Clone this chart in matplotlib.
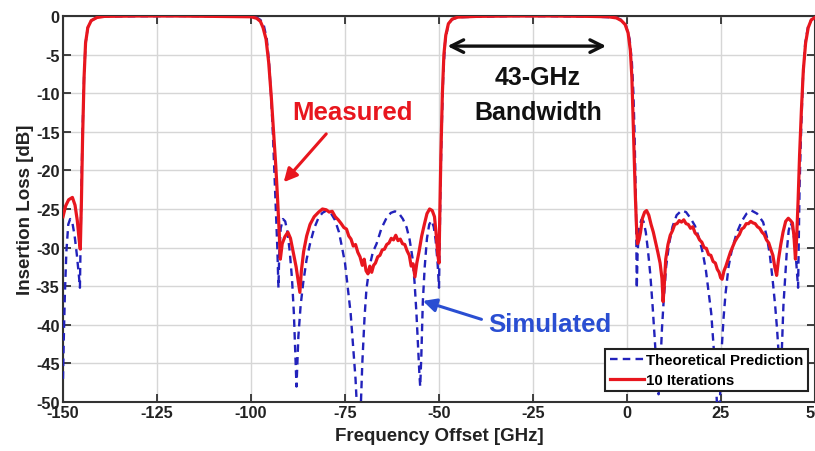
import matplotlib
matplotlib.use("Agg")
import matplotlib.pyplot as plt

# ---- Data ----
meas_f = [-150, -149.3, -148.5, -147.5, -146.8, -146.2, -145.7, -145.4, -145.1, -144.8, -144.4, -144.0,
          -143.4, -142.5, -141, -139, -130, -120, -110, -100, -98.5, -97.5, -96.8, -96.0, -95.3, -94.6,
          -94.0, -93.4, -92.9, -92.5, -92.2, -91.7, -91.0, -90.2, -89.5, -88.8, -88.0, -87.4, -87.0,
          -86.6, -86.0, -85.2, -84.3, -83.2, -82.0, -81.0, -80.0, -79.2, -78.4, -77.6, -76.8, -76.0,
          -75.3, -74.6, -74.0, -73.4, -72.8, -72.2, -71.6, -71.0, -70.4, -69.9, -69.4, -68.9, -68.4,
          -67.9, -67.4, -66.9, -66.3, -65.7, -65.1, -64.5, -63.9, -63.3, -62.7, -62.1, -61.5, -60.9,
          -60.3, -59.7, -59.1, -58.5, -57.9, -57.4, -56.9, -56.4, -55.9, -55.3, -54.6, -53.9, -53.2,
          -52.5, -51.8, -51.2, -50.7, -50.3, -50.0, -49.8, -49.5, -49.1, -48.7, -48.2, -47.5, -46.5,
          -45, -40, -30, -20, -10, -5, -2.8, -1.5, -0.5, 0.3, 0.9, 1.3, 1.6, 1.9, 2.2, 2.5, 2.8, 3.2,
          3.6, 4.1, 4.7, 5.2, 5.8, 6.4, 7.0, 7.6, 8.2, 8.8, 9.3, 9.6, 9.9, 10.3, 10.9, 11.5, 12.1,
          12.7, 13.3, 13.9, 14.5, 15.1, 15.7, 16.3, 16.9, 17.5, 18.1, 18.7, 19.3, 19.9, 20.5, 21.1,
          21.7, 22.3, 22.9, 23.5, 24.0, 24.5, 24.9, 25.3, 25.8, 26.3, 26.9, 27.5, 28.1, 28.7, 29.3,
          29.9, 30.5, 31.1, 31.7, 32.3, 32.9, 33.5, 34.1, 34.7, 35.3, 35.9, 36.5, 37.1, 37.7, 38.3,
          38.8, 39.3, 39.8, 40.3, 40.9, 41.5, 42.2, 42.9, 43.5, 44.0, 44.4, 44.8, 45.1, 45.5, 45.9,
          46.4, 46.9, 47.5, 48.2, 49.0, 50.0]
meas_db = [-26.0, -24.6, -23.8, -23.5, -24.5, -26.5, -29.0, -30.2, -24, -16, -8, -3.5,
           -1.5, -0.6, -0.2, -0.05, 0, 0, -0.05, -0.1, -0.3, -0.7, -1.5, -3, -6, -10.5,
           -15, -19.5, -24, -28, -31.5, -29.5, -28.6, -28.0, -28.8, -30.5, -32.5, -34.5, -35.8,
           -33, -30.5, -28.5, -27.0, -26.0, -25.4, -25.0, -25.1, -25.4, -25.3, -26.0, -26.4, -26.9,
           -27.4, -27.6, -28.5, -28.9, -29.8, -29.6, -30.6, -31.2, -32.3, -31.5, -33.0, -33.4, -32.4,
           -33.2, -32.3, -32.0, -31.2, -31.0, -30.3, -30.2, -29.6, -29.4, -28.8, -29.0, -28.4, -29.1,
           -28.9, -29.5, -29.6, -30.4, -31.0, -32.4, -32.1, -33.8, -32.0, -30.5, -28.5, -27.0, -25.6,
           -25.0, -25.2, -26.0, -28.5, -31.0, -32.0, -26, -18, -10, -5, -2.5, -1.0, -0.4,
           -0.15, -0.05, 0, 0, -0.05, -0.1, -0.25, -0.6, -1.1, -2.2, -4.5, -8, -13, -18, -23, -27, -29.5, -29.0,
           -28.0, -26.2, -25.4, -25.2, -25.8, -27, -28.0, -29.3, -30.6, -32.0, -34, -37.0, -35, -31.5, -29.6, -28.4, -27.8,
           -27.0, -26.9, -26.5, -26.7, -26.4, -26.9, -27.0, -27.5, -27.3, -28.1, -28.4, -29.0, -29.3, -30.0, -30.1,
           -30.9, -31.0, -31.8, -32.0, -32.8, -33.2, -33.9, -34.1, -33.0, -32.4, -31.5, -30.6, -29.9, -29.2, -28.7,
           -28.3, -27.6, -27.4, -26.9, -26.9, -26.6, -26.8, -26.9, -27.3, -27.5, -28.0, -28.3, -29.0, -29.4, -30.3,
           -31.0, -32.5, -33.6, -31.5, -29.6, -28.0, -26.6, -26.2, -26.5, -26.8, -28.5, -31.5, -29, -24, -18,
           -12, -7, -3.5, -1.5, -0.5, -0.2]

theo_f = [-150, -149.8, -149.5, -149.1, -148.6, -148.1, -147.5, -146.9, -146.3, -145.7, -145.5, -145.35,
          -145.1, -144.8, -144.4, -144.0, -143.4, -142.5, -141, -139, -120, -100, -98.5, -97.5, -96.6,
          -95.8, -95.2, -94.7, -94.2, -93.8, -93.4, -93.0, -92.7, -92.5, -92.1, -91.5, -90.9, -90.3,
          -89.7, -89.1, -88.6, -88.2, -87.9, -87.4, -86.8, -86.1, -85.2, -84.3, -83.2, -82.1, -81.0,
          -79.9, -78.8, -77.7, -76.6, -75.7, -75.0, -74.2, -73.5, -72.8, -72.2, -71.7, -71.3, -70.9,
          -70.4, -69.8, -69.3, -68.5, -67.6, -66.6, -65.3, -63.9, -62.8, -61.7, -60.6, -59.6, -58.6,
          -57.8, -57.0, -56.5, -56.0, -55.6, -55.2, -55.0, -54.7, -54.3, -53.8, -53.2, -52.6, -52.0,
          -51.4, -50.9, -50.4, -50.0, -49.85, -49.6, -49.3, -48.9, -48.4, -47.7, -46.7, -45, -30, -10,
          -3, -1.5, -0.3, 0.7, 1.3, 1.7, 2.0, 2.2, 2.4, 2.5, 2.6, 2.8, 3.2, 3.8, 4.4, 5.0, 5.6, 6.2,
          6.8, 7.4, 7.9, 8.4, 8.9, 9.3, 9.8, 10.4, 11.2, 12.1, 13.2, 14.5, 15.7, 16.9, 18.1, 19.3,
          20.2, 21.0, 21.7, 22.4, 23.0, 23.5, 23.9, 24.3, 24.7, 25.2, 25.7, 26.2, 27.0, 27.8, 29.1,
          30.5, 31.8, 33.1, 34.6, 36.2, 37.2, 38.0, 38.7, 39.4, 39.9, 40.3, 40.8, 41.2, 41.6, 42.1,
          42.5, 43.0, 43.5, 44.0, 44.5, 45.0, 45.5, 45.65, 45.9, 46.3, 46.8, 47.4, 48.1, 49, 50]
theo_db = [-47, -42, -36, -30.5, -27.0, -26.3, -26.8, -28.5, -31, -34, -35.2, -30,
           -22, -15, -8, -3.5, -1.5, -0.6, -0.2, -0.05, 0, -0.05, -0.2, -0.5, -1.2,
           -3, -6, -10, -15, -20, -25, -30, -35.2, -31, -27.5, -26.3, -26.6, -28,
           -30.5, -34, -38.5, -44, -48, -41.5, -37.5, -34.5, -31.5, -29.5, -27.5, -26.2, -25.5,
           -25.2, -25.5, -26.4, -28.0, -30.2, -32.0, -35.5, -38.5, -43, -47, -52, -58, -52,
           -45, -39, -35.4, -32.5, -30.6, -29.5, -27.5, -26.1, -25.5, -25.3, -25.6, -26.3, -27.4,
           -29, -31.5, -34.5, -38.5, -42.5, -46.5, -48, -44, -37, -32.5, -28.8, -27.0, -26.5,
           -27.3, -29.0, -31.8, -35.2, -30, -22, -15, -8, -3.5, -1.5, -0.5, -0.15, 0, -0.05,
           -0.2, -0.5, -1.2, -3, -6, -10, -15, -20, -25, -30, -35.3, -31, -27.5, -26.4, -26.6, -28, -30.5, -33.5,
           -37.5, -42, -46, -49, -45, -40.5, -36.5, -32.5, -29.5, -27.3, -25.8, -25.2, -25.4, -26.2, -27.2, -29.0,
           -30.8, -33.0, -35.7, -38.5, -42.5, -46, -50, -55, -50, -43, -39, -36, -32.5, -30.5, -28.2,
           -26.6, -25.6, -25.2, -25.6, -26.7, -28.6, -31, -34, -37.5, -40.5, -43.5, -47, -43, -37.5, -33.5,
           -30.5, -27.8, -26.8, -27.3, -29, -31.8, -35.2, -30, -22, -15, -8, -3.5, -1.5, -0.5, -0.2]

x_ticks = [-150, -125, -100, -75, -50, -25, 0, 25, 50]
y_ticks = [0, -5, -10, -15, -20, -25, -30, -35, -40, -45, -50]
legend_labels = ["Theoretical Prediction", "10 Iterations"]

# ---- Figure ----
W, H = 815, 452
fig = plt.figure(figsize=(W / 100, H / 100), dpi=100)
ax = fig.add_axes([63 / W, 1 - 403 / H, (815 - 63) / W, (403 - 17) / H])

FONT = "Liberation Sans"
RED = "#e8161e"
BLUE = "#2222bb"
SIMBLUE = "#2a4ed2"

l1, = ax.plot(theo_f, theo_db, color=BLUE, lw=1.7, ls=(0, (3.2, 2.2)), zorder=3)
l2, = ax.plot(meas_f, meas_db, color=RED, lw=2.3, zorder=4)

ax.set_xlim(-150, 50)
ax.set_ylim(-50, 0)
ax.set_xticks(x_ticks)
ax.set_yticks(y_ticks)
ax.set_xticklabels([str(t) for t in x_ticks])
ax.set_yticklabels([str(t) for t in y_ticks])
ax.grid(True, color="#d6d6d6", lw=1.0, zorder=0)
ax.set_axisbelow(True)
ax.tick_params(direction="in", length=6, width=1.2, top=True, right=True,
               labelsize=11.8, pad=2.5, colors="#222222")
for lab in ax.get_xticklabels() + ax.get_yticklabels():
    lab.set_fontfamily(FONT)
    lab.set_fontweight("bold")
    lab.set_color("#222222")
for s in ax.spines.values():
    s.set_linewidth(1.5)
    s.set_color("#333333")

ax.set_xlabel("Frequency Offset [GHz]", fontsize=13.5, fontweight="bold", family=FONT,
              color="#222222", labelpad=5)
ax.set_ylabel("Insertion Loss [dB]", fontsize=13.5, fontweight="bold", family=FONT,
              color="#222222", labelpad=1)

# Annotations
ax.text(-73.1, -12.5, "Measured", color=RED, fontsize=18.5, fontweight="bold", family=FONT,
        ha="center", va="center")
ax.annotate("", xy=(-91.8, -21.8), xytext=(-79.5, -15.0),
            arrowprops=dict(arrowstyle="-|>,head_length=0.8,head_width=0.4", color=RED, lw=2.2))
ax.text(-20.5, -39.9, "Simulated", color=SIMBLUE, fontsize=18.5, fontweight="bold", family=FONT,
        ha="center", va="center")
ax.annotate("", xy=(-55.0, -36.8), xytext=(-38.0, -39.4),
            arrowprops=dict(arrowstyle="-|>,head_length=0.8,head_width=0.4", color=SIMBLUE, lw=2.2))
ax.text(-23.7, -7.9, "43-GHz", color="#111111", fontsize=18, fontweight="bold", family=FONT,
        ha="center", va="center")
ax.text(-23.7, -12.5, "Bandwidth", color="#111111", fontsize=18, fontweight="bold", family=FONT,
        ha="center", va="center")
ax.annotate("", xy=(-48.5, -3.9), xytext=(-4.8, -3.9),
            arrowprops=dict(arrowstyle="<->,head_length=0.9,head_width=0.45", color="#111111", lw=2.4))

leg = ax.legend([l1, l2], legend_labels, loc="upper left",
                bbox_to_anchor=(605 / W, 1 - 350 / H), bbox_transform=fig.transFigure,
                prop={"family": FONT, "weight": "bold", "size": 10.8},
                frameon=True, fancybox=False, framealpha=1, edgecolor="#222222",
                handlelength=2.3, handletextpad=0.15, labelspacing=0.35,
                borderpad=0.3, borderaxespad=0)
leg.get_frame().set_linewidth(1.5)
leg.set_zorder(10)

fig.savefig("out.png", dpi=100)
